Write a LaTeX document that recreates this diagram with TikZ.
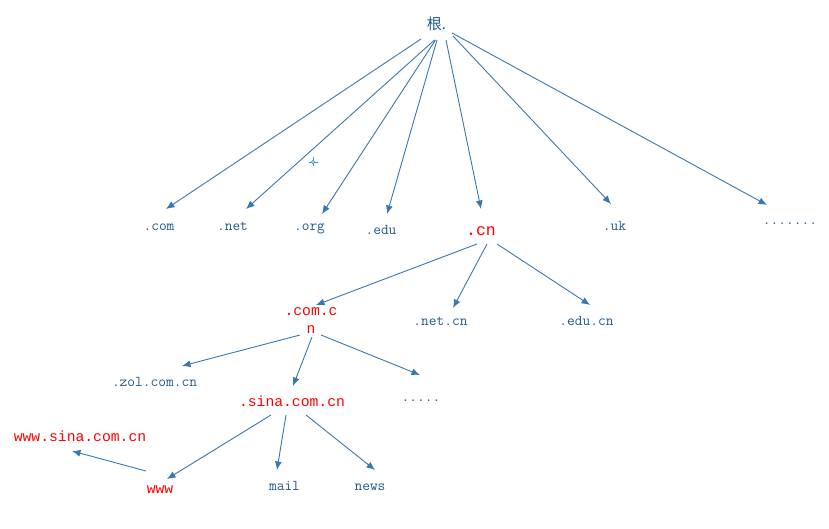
\documentclass[tikz,border=0pt]{standalone}
\usepackage{fontspec}
\usepackage{tikz}
\usetikzlibrary{arrows.meta,positioning}
\newfontfamily\redmono{Liberation Mono}
\newfontfamily\cjk{Noto Sans CJK SC}
\definecolor{labelblue}{HTML}{1F5A8A}
\definecolor{arrowblue}{HTML}{3877B0}
\definecolor{hitred}{HTML}{FF0000}
\definecolor{cursorblue}{HTML}{3D8FE0}

\begin{document}
\begin{tikzpicture}[
  x=1pt, y=-1pt,
  label/.style={inner sep=0pt, outer sep=0pt, anchor=base, text=labelblue, font=\fontsize{15}{18}\selectfont\ttfamily},
  hit/.style={inner sep=0pt, outer sep=0pt, anchor=base, text=hitred, font=\fontsize{14.7}{18}\selectfont\redmono},
  arrow/.style={-{Latex[length=8.5pt,width=7pt]}, line width=0.9pt, draw=arrowblue}
]
\useasboundingbox (0,0) rectangle (829,529);

% top level
\node[label, font=\fontsize{15}{16}\selectfont\cjk] (root) at (436.5,30) {根.};
\node[label] (com) at (159,230) {.com};
\node[label] (net) at (232.5,231) {.net};
\node[label] (org) at (309.5,230) {.org};
\node[label] (edu) at (381,234) {.edu};
\node[hit, font=\fontsize{16.5}{18}\selectfont\redmono] (cn) at (481,236) {.cn};
\node[label] (uk) at (614.5,230) {.uk};
\node[label] (moretop) at (790,225) {.......};

\draw[arrow] ([xshift=-15.5pt,yshift=-9pt]root.base) -- ([xshift=7pt,yshift=21pt]com.base);
\draw[arrow] ([xshift=-2pt,yshift=-10pt]root.base) -- ([xshift=13.5pt,yshift=22pt]net.base);
\draw[arrow] ([xshift=-1pt,yshift=-10pt]root.base) -- ([xshift=12.5pt,yshift=16pt]org.base);
\draw[arrow] ([xshift=0.5pt,yshift=-10pt]root.base) -- ([xshift=6pt,yshift=20pt]edu.base);
\draw[arrow] ([xshift=9.5pt,yshift=-10pt]root.base) -- ([yshift=27pt]cn.base);
\draw[arrow] ([xshift=16.5pt,yshift=-6pt]root.base) -- ([xshift=-3.5pt,yshift=26pt]uk.base);
\draw[arrow] ([xshift=15.5pt,yshift=-3pt]root.base) -- ([xshift=-23pt,yshift=20pt]moretop.base);

% under .cn
\node[hit, anchor=center, align=center] (comcn) at (311,321) {.com.c\\n};
\node[label] (netcn) at (440.5,325) {.net.cn};
\node[label] (educn) at (586.5,325) {.edu.cn};

\draw[arrow] ([xshift=-4pt,yshift=-8pt]cn.base) -- ([xshift=5pt,yshift=16pt]comcn.center);
\draw[arrow] ([xshift=6pt,yshift=-8pt]cn.base) -- ([xshift=12.5pt,yshift=17pt]netcn.base);
\draw[arrow] ([xshift=16pt,yshift=-8pt]cn.base) -- ([xshift=3.5pt,yshift=20pt]educn.base);

% under .com.cn
\node[label] (zol) at (154.5,386) {.zol.com.cn};
\node[hit] (sina) at (292,406) {.sina.com.cn};
\node[label] (morecom) at (421,401) {.....};

\draw[arrow] ([xshift=-11pt,yshift=-14pt]comcn.center) -- ([xshift=27.5pt,yshift=20pt]zol.base);
\draw[arrow] ([xshift=1pt,yshift=-16pt]comcn.center) -- ([xshift=1pt,yshift=20pt]sina.base);
\draw[arrow] ([xshift=10pt,yshift=-14pt]comcn.center) -- ([xshift=-1pt,yshift=26pt]morecom.base);

% hosts of sina
\node[hit] (fullname) at (80,441) {www.sina.com.cn};
\node[hit] (www) at (160,493) {www};
\node[label] (mail) at (284.5,490) {mail};
\node[label] (news) at (370,490) {news};

\draw[arrow] ([xshift=-21pt,yshift=-9pt]sina.base) -- ([xshift=7pt,yshift=14pt]www.base);
\draw[arrow] ([xshift=-6pt,yshift=-9pt]sina.base) -- ([xshift=-7.5pt,yshift=20pt]mail.base);
\draw[arrow] ([xshift=14pt,yshift=-9pt]sina.base) -- ([xshift=5pt,yshift=20pt]news.base);
\draw[arrow] ([xshift=-14pt,yshift=22pt]www.base) -- ([xshift=-8pt,yshift=-10pt]fullname.base);

% cursor mark
\draw[cursorblue, line width=0.9pt] (308.5,162) -- (317.5,162) (313,157.5) -- (313,166.5);
\draw[cursorblue, fill=white, line width=0.7pt] (313,162) circle (1.6);
\end{tikzpicture}
\end{document}
